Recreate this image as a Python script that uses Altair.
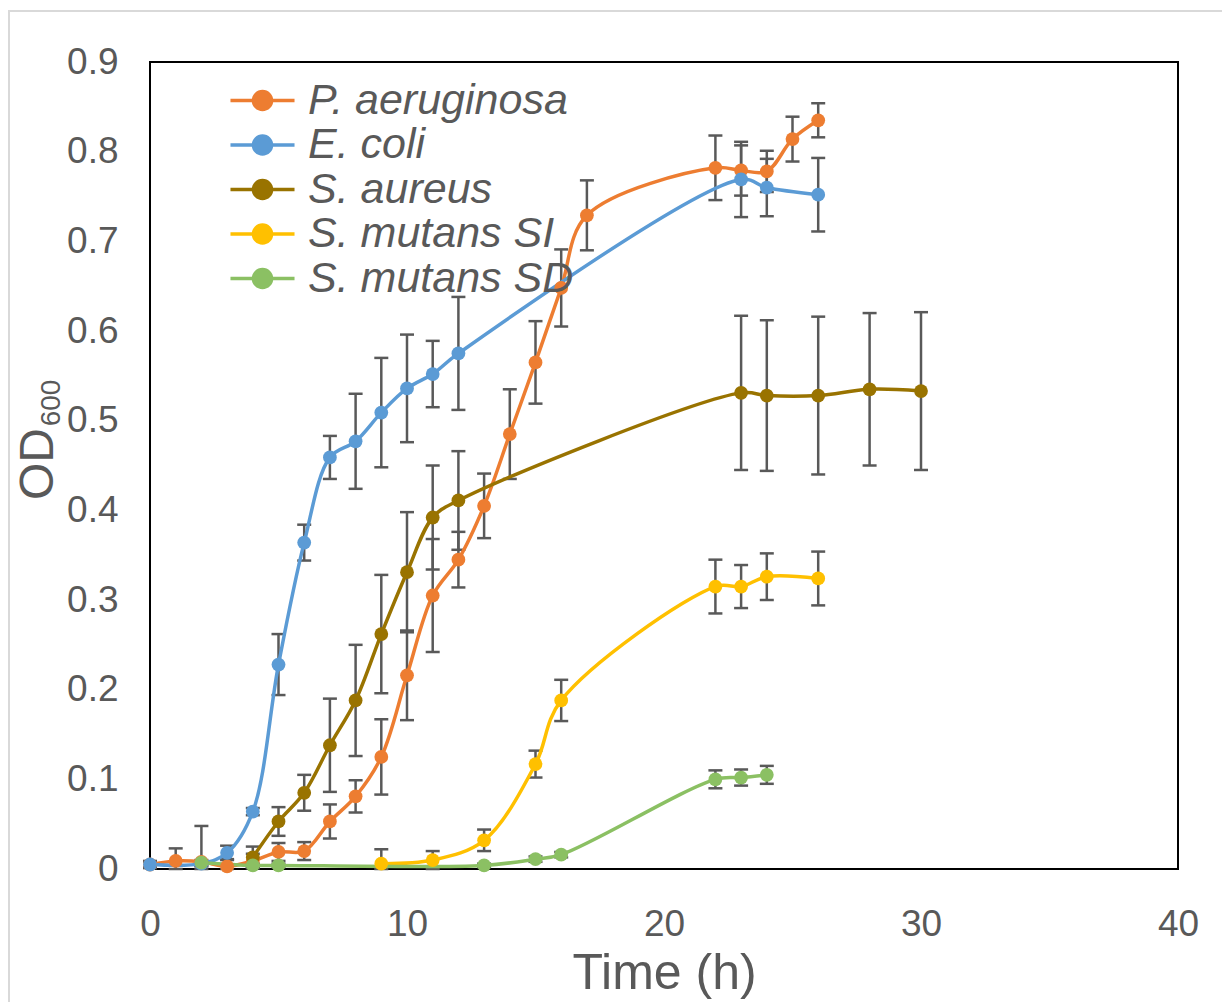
import altair as alt
import pandas as pd

# ---------------- data ----------------
series_names = ["P. aeruginosa", "E. coli", "S. aureus", "S. mutans SI", "S. mutans SD"]
series_colors = ["#ED7D31", "#5B9BD5", "#997300", "#FFC000", "#8BC063"]

pa_t = [0, 1, 2, 3, 4, 5, 6, 7, 8, 9, 10, 11, 12, 13, 14, 15, 16, 17, 22, 23, 24, 25, 26]
pa_od = [0.005, 0.009, 0.008, 0.003, 0.009, 0.019, 0.020, 0.053, 0.081, 0.125, 0.216, 0.305,
         0.345, 0.405, 0.485, 0.565, 0.648, 0.729, 0.782, 0.779, 0.778, 0.814, 0.835]
pa_err = [0.004, 0.014, 0.040, 0.008, 0.008, 0.010, 0.010, 0.019, 0.018, 0.042, 0.050, 0.063,
          0.031, 0.036, 0.050, 0.046, 0.043, 0.039, 0.036, 0.028, 0.023, 0.025, 0.019]

ec_t = [0, 2, 3, 4, 5, 6, 7, 8, 9, 10, 11, 12, 23, 24, 26]
ec_od = [0.005, 0.006, 0.018, 0.064, 0.228, 0.364, 0.459, 0.477, 0.509, 0.536, 0.552, 0.575,
         0.769, 0.760, 0.752]
ec_err = [0.003, 0.003, 0.008, 0.004, 0.034, 0.020, 0.024, 0.053, 0.061, 0.060, 0.037, 0.063,
          0.042, 0.032, 0.041]

sa_t = [4, 5, 6, 7, 8, 9, 10, 11, 12, 23, 24, 26, 28, 30]
sa_od = [0.013, 0.053, 0.085, 0.138, 0.188, 0.262, 0.331, 0.392, 0.411, 0.531, 0.528, 0.528,
         0.535, 0.533]
sa_err = [0.012, 0.016, 0.020, 0.052, 0.062, 0.066, 0.067, 0.058, 0.055, 0.086, 0.084, 0.088,
          0.085, 0.088]

si_t = [9, 11, 13, 15, 16, 22, 23, 24, 26]
si_od = [0.006, 0.010, 0.032, 0.117, 0.188, 0.315, 0.315, 0.326, 0.324]
si_err = [0.016, 0.010, 0.012, 0.015, 0.023, 0.030, 0.024, 0.026, 0.030]

sd_t = [2, 4, 5, 13, 15, 16, 22, 23, 24]
sd_od = [0.007, 0.004, 0.004, 0.004, 0.011, 0.016, 0.100, 0.102, 0.105]
sd_err = [0.003, 0.002, 0.002, 0.002, 0.003, 0.003, 0.010, 0.009, 0.010]

x_ticks = [0, 10, 20, 30, 40]
y_ticks = [0, 0.1, 0.2, 0.3, 0.4, 0.5, 0.6, 0.7, 0.8, 0.9]

rows = []
for name, ts, ys, es in zip(series_names,
                            [pa_t, ec_t, sa_t, si_t, sd_t],
                            [pa_od, ec_od, sa_od, si_od, sd_od],
                            [pa_err, ec_err, sa_err, si_err, sd_err]):
    for t, y, e in zip(ts, ys, es):
        rows.append({"series": name, "t": t, "od": y,
                     "lo": max(0.0, y - e), "hi": y + e})
df = pd.DataFrame(rows)

# ---------------- styling ----------------
GRAY = "#595959"
FONT = "Liberation Sans"

x_scale = alt.Scale(domain=[0, 40], nice=False)
y_scale = alt.Scale(domain=[0, 0.9], nice=False)
x_axis = alt.Axis(values=x_ticks, title="Time (h)", labelFontSize=37, titleFontSize=50,
                  labelPadding=37, titlePadding=6, tickSize=0, ticks=False, grid=False,
                  domain=False, labelColor=GRAY, titleColor=GRAY, labelFont=FONT,
                  titleFont=FONT, titleFontWeight="normal", labelFlush=False)
y_axis = alt.Axis(values=y_ticks, title=None, format=".1~f", labelFontSize=37,
                  labelPadding=32, tickSize=0, ticks=False, grid=False, domain=False,
                  labelColor=GRAY, labelFont=FONT, labelFlush=False)

color_scale = alt.Scale(domain=series_names, range=series_colors)

# line segment plus concentric rings (renders as a filled dot with stroke only)
legend_symbol = ("M-3.05,0H3.05"
                 "M0.86,0A0.86,0.86,0,1,1,-0.86,0A0.86,0.86,0,1,1,0.86,0"
                 "M0.56,0A0.56,0.56,0,1,1,-0.56,0A0.56,0.56,0,1,1,0.56,0"
                 "M0.26,0A0.26,0.26,0,1,1,-0.26,0A0.26,0.26,0,1,1,0.26,0")

legend = alt.Legend(
    title=None, orient="none", legendX=91, legendY=17, padding=0,
    symbolType=legend_symbol, symbolSize=441, symbolStrokeWidth=3.5,
    labelFontSize=43, labelFont=FONT, labelFontStyle="italic", labelColor=GRAY,
    labelOffset=24, rowPadding=0.5, labelLimit=500,
)

base = alt.Chart(df)

border = alt.Chart(pd.DataFrame({"b": [1]})).mark_rect(
    filled=False, stroke="#d9d9d9", strokeWidth=2
).encode(x=alt.value(-141), x2=alt.value(1200), y=alt.value(-51), y2=alt.value(1200))

err_rules = base.mark_rule(color=GRAY, strokeWidth=2.5).encode(
    x=alt.X("t:Q", scale=x_scale, axis=x_axis),
    y=alt.Y("lo:Q", scale=y_scale, axis=y_axis),
    y2="hi:Q",
)

err_caps = base.transform_fold(["lo", "hi"], as_=["k", "v"]).mark_point(
    shape="M-1,0H1", size=196, stroke=GRAY, strokeWidth=2.5, filled=False, opacity=1
).encode(
    x=alt.X("t:Q", scale=x_scale, axis=x_axis),
    y=alt.Y("v:Q", scale=y_scale, axis=y_axis),
)

lines = base.mark_line(strokeWidth=3.5, interpolate="catmull-rom").encode(
    x=alt.X("t:Q", scale=x_scale, axis=x_axis),
    y=alt.Y("od:Q", scale=y_scale, axis=y_axis),
    color=alt.Color("series:N", scale=color_scale, legend=legend),
)

points = base.mark_point(filled=True, size=190, strokeWidth=0, opacity=1).encode(
    x=alt.X("t:Q", scale=x_scale, axis=x_axis),
    y=alt.Y("od:Q", scale=y_scale, axis=y_axis),
    fill=alt.Fill("series:N", scale=color_scale, legend=None),
)

od_title = alt.Chart(pd.DataFrame({"txt": ["OD"]})).mark_text(
    angle=270, fontSize=48, color=GRAY, font=FONT, align="center", baseline="alphabetic"
).encode(text="txt:N", x=alt.value(-97), y=alt.value(402))

sub_title = alt.Chart(pd.DataFrame({"txt": ["600"]})).mark_text(
    angle=270, fontSize=28, color=GRAY, font=FONT, align="center", baseline="alphabetic"
).encode(text="txt:N", x=alt.value(-90), y=alt.value(341))

chart = alt.layer(border, err_rules, err_caps, lines, points, od_title, sub_title).properties(
    width=1028, height=807,
    padding={"left": 142, "top": 54, "right": 44, "bottom": 133},
    autosize=alt.AutoSizeParams(type="none"),
    background="white",
).configure_view(stroke="black", strokeWidth=2)

chart.save("out.html", embed_options={"renderer": "svg", "actions": False})
